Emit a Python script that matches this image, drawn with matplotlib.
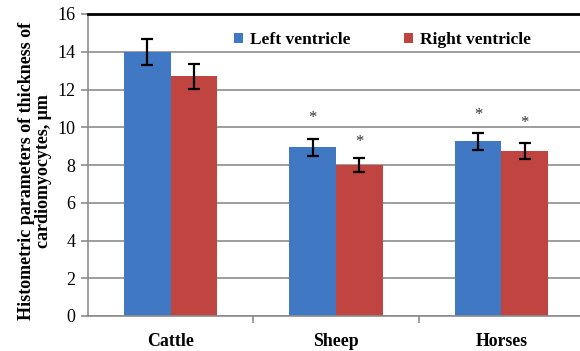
import numpy as np
import matplotlib.pyplot as plt

categories = ['Cattle', 'Sheep', 'Horses']
left_vals = [14.0, 8.95, 9.27]
left_err = [0.7, 0.45, 0.45]
right_vals = [12.7, 8.0, 8.75]
right_err = [0.65, 0.37, 0.43]
# positions of the significance marks (value axis)
left_star = [None, 10.5, 10.65]
right_star = [None, 9.2, 10.2]

plt.rcParams['font.family'] = ['Liberation Serif', 'DejaVu Serif']

fig = plt.figure(figsize=(5.8, 3.51), dpi=100)
ax = fig.add_axes([88 / 580, 1 - 316 / 351, 492 / 580, 302 / 351])

x = np.arange(len(categories))
w = 0.283
blue = '#4178C3'
red = '#C0443F'

ax.bar(x - w / 2, left_vals, w, color=blue, label='Left ventricle', zorder=2)
ax.bar(x + w / 2, right_vals, w, color=red, label='Right ventricle', zorder=2)
ax.errorbar(x - w / 2, left_vals, yerr=left_err, fmt='none', ecolor='black',
            elinewidth=1.6, capsize=4.5, capthick=1.6, zorder=3)
ax.errorbar(x + w / 2, right_vals, yerr=right_err, fmt='none', ecolor='black',
            elinewidth=1.6, capsize=4.5, capthick=1.6, zorder=3)

for i in range(len(categories)):
    if left_star[i] is not None:
        ax.text(x[i] - w / 2, left_star[i], '*', ha='center', va='center',
                fontsize=12, color='#333333')
    if right_star[i] is not None:
        ax.text(x[i] + w / 2, right_star[i], '*', ha='center', va='center',
                fontsize=12, color='#333333')

ax.set_ylim(0, 16)
ax.set_yticks(np.arange(0, 17, 2))
ax.set_xlim(-0.5, 2.475)
ax.yaxis.grid(True, color='#8c8c8c', linewidth=1.2, zorder=0)
ax.set_axisbelow(True)

ax.set_xticks(x)
ax.set_xticklabels(categories, fontweight='bold', fontsize=12.8)
ax.set_xticks([0.5, 1.5], minor=True)
ax.tick_params(axis='x', which='major', length=0, pad=12)
ax.tick_params(axis='x', which='minor', length=5, color='#8c8c8c', width=1.2)
ax.tick_params(axis='y', length=5, color='#8c8c8c', width=1.2, labelsize=13, pad=4)

for s in ['left', 'bottom']:
    ax.spines[s].set_color('#8c8c8c')
    ax.spines[s].set_linewidth(1.2)
ax.spines['right'].set_visible(False)
ax.spines['top'].set_color('black')
ax.spines['top'].set_linewidth(2)

ax.set_ylabel('Histometric parameters of thickness of\ncardiomyocytes, \u03bcm',
              fontweight='bold', fontsize=13, linespacing=1.0)
ax.yaxis.set_label_coords(-0.073, 0.48)

ax.legend(loc='center left', bbox_to_anchor=(0.297, 0.914), ncol=2, frameon=False,
          prop={'weight': 'bold', 'size': 12.5}, handlelength=0.52, handleheight=0.52,
          handletextpad=0.4, columnspacing=3.05, borderpad=0, borderaxespad=0)

fig.savefig('out.png', dpi=100)
